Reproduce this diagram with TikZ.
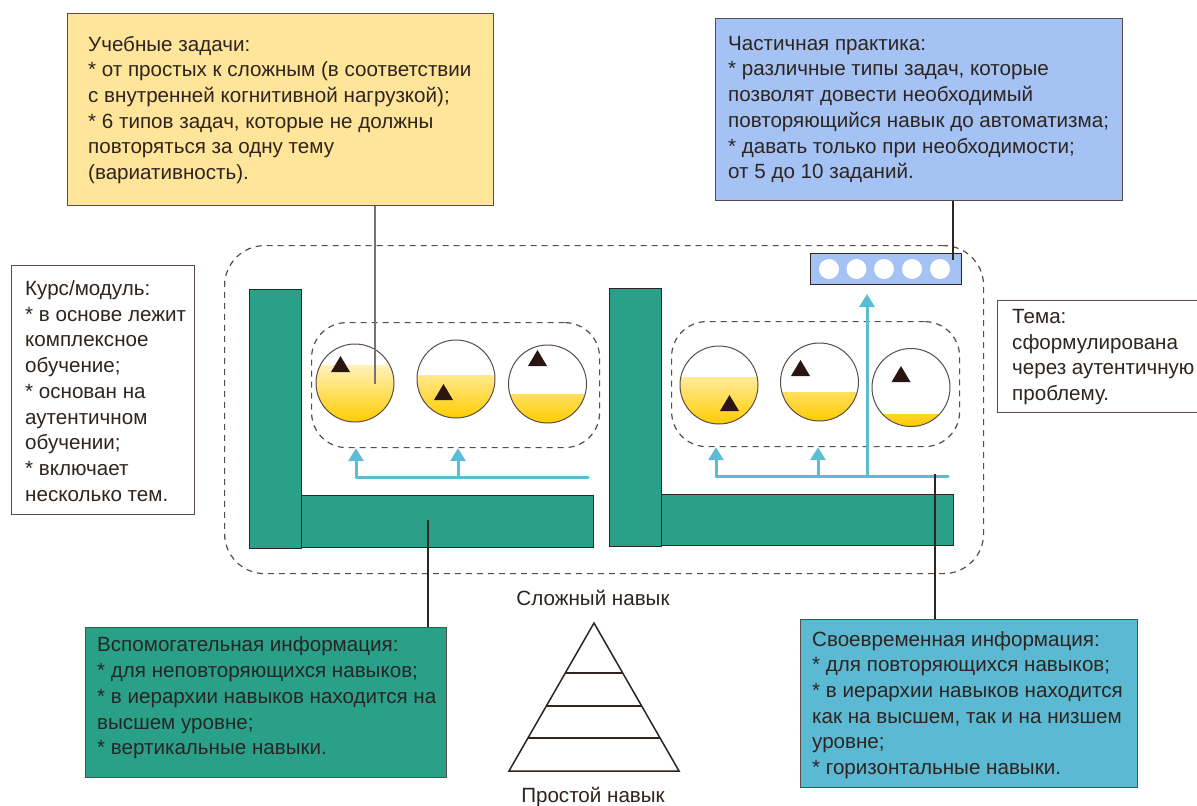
\documentclass[tikz,border=0pt]{standalone}
\usepackage{fontspec}
\setmainfont{Liberation Sans}
\usetikzlibrary{arrows.meta,calc}
\definecolor{yel}{HTML}{FFE599}
\definecolor{lblue}{HTML}{A4C2F4}
\definecolor{teal1}{HTML}{2BA089}
\definecolor{sky}{HTML}{5BB9D3}
\definecolor{flowc}{HTML}{5BBCD6}
\definecolor{gold}{HTML}{FFCC00}
\definecolor{ink}{HTML}{2E2420}
\definecolor{edge}{HTML}{5A4C48}
\definecolor{tri}{HTML}{2A1510}
\tikzset{
  box/.style={draw=edge, line width=1pt, anchor=north west, inner sep=0pt},
  txt/.style={anchor=west, align=left, inner sep=0pt, text=ink, font=\fontsize{20.6}{25.7}\selectfont},
  lbl/.style={inner sep=0pt, text=ink, font=\fontsize{20.6}{24}\selectfont},
  bar/.style={draw=ink, line width=1pt, fill=teal1, anchor=north west, inner sep=0pt},
  dbox/.style={draw=edge, line width=1.2pt, dash pattern=on 6pt off 5pt, anchor=north west, inner sep=0pt},
  cup/.style={circle, draw=edge, line width=1pt, minimum size=78pt, inner sep=0pt, fill=white,
    path picture={\shade[top color=white, middle color=gold!45, bottom color=gold] (path picture bounding box.south west) rectangle ($(path picture bounding box.north east)!#1!(path picture bounding box.south east)$);}},
  flow/.style={draw=flowc, line width=3pt},
  flowarr/.style={draw=flowc, line width=3pt, -{Triangle[width=15pt,length=13pt]}},
  conn/.style={draw=ink, line width=1.3pt},
  dot/.style={circle, fill=white, minimum size=20pt, inner sep=0pt},
  tri/.pic={\fill[tri] (-9.5,0) -- (0,-16) -- (9.5,0) -- cycle;}
}
\begin{document}
\begin{tikzpicture}[x=1pt,y=-1pt]
\useasboundingbox (0,0) rectangle (1197,806);
\fill[white] (0,0) rectangle (1197,806);

% big dashed container
\node[dbox, rounded corners=40pt, minimum width=759pt, minimum height=328pt] (outer) at (224,245) {};

% L shapes
\node[bar, minimum width=52pt, minimum height=259pt] (lvert) at (249,289) {};
\node[bar, minimum width=292pt, minimum height=52pt] (lhor) at (301,495) {};
\node[bar, minimum width=52pt, minimum height=258pt] (rvert) at (609,288) {};
\node[bar, minimum width=292pt, minimum height=51pt] (rhor) at (661,494) {};

% inner dashed groups
\node[dbox, rounded corners=35pt, minimum width=288pt, minimum height=125pt] (linner) at (311,322) {};
\node[dbox, rounded corners=35pt, minimum width=288pt, minimum height=125pt] (rinner) at (671,321) {};

% circles
\node[cup=0.27] (l1) at (355,383) {};
\node[cup=0.46] (l2) at (456,379) {};
\node[cup=0.64] (l3) at (547.5,384) {};
\node[cup=0.40] (r1) at (719,385) {};
\node[cup=0.63] (r2) at (819.5,382) {};
\node[cup=0.85] (r3) at (911,387.5) {};
\pic at (340.5,372) {tri};
\pic at (443.5,400) {tri};
\pic at (537.5,366) {tri};
\pic at (729.5,411) {tri};
\pic at (800.5,376) {tri};
\pic at (901,382) {tri};

% task bar with dots
\node[box, fill=lblue, draw=ink, minimum width=151pt, minimum height=31pt] (tbar) at (810,253) {};
\node[dot] (d1) at (829,269) {};
\node[dot] (d2) at (856.5,269) {};
\node[dot] (d3) at (884,269) {};
\node[dot] (d4) at (912,269) {};
\node[dot] (d5) at (940,269) {};

% blue flow arrows
\coordinate (lf) at (588,477);
\coordinate (la) at (356,477);
\coordinate (lb) at (458,477);
\draw[flow, line cap=round] (lf) -- (la);
\draw[flowarr] (la) -- (linner.south -| la);
\draw[flowarr] (lb) -- (linner.south -| lb);
\coordinate (rf) at (948,476);
\coordinate (ra) at (716,476);
\coordinate (rb) at (818,476);
\coordinate (rc) at (867,476);
\draw[flow, line cap=round] (rf) -- (ra);
\draw[flowarr] (ra) -- (rinner.south -| ra);
\draw[flowarr] (rb) -- (rinner.south -| rb);
\draw[flowarr, shorten >=9pt] (rc) -- (tbar.south -| rc);

% text boxes
\node[box, fill=yel, minimum width=426pt, minimum height=192pt] (ybox) at (67,13) {};
\node[txt] (ytxt) at (88,110) {Учебные задачи:\\
* от простых к сложным (в соответствии\\
с внутренней когнитивной нагрузкой);\\
* 6 типов задач, которые не должны\\
повторяться за одну тему\\
(вариативность).};

\node[box, fill=lblue, minimum width=407pt, minimum height=182pt] (bbox) at (715,18) {};
\node[txt] (btxt) at (728,109.5) {Частичная практика:\\
* различные типы задач, которые\\
позволят довести необходимый\\
повторяющийся навык до автоматизма;\\
* давать только при необходимости;\\
от 5 до 10 заданий.};

\node[box, fill=white, minimum width=183pt, minimum height=249pt] (kbox) at (11,265) {};
\node[txt] (ktxt) at (25,391) {Курс/модуль:\\
* в основе лежит\\
комплексное\\
обучение;\\
* основан на\\
аутентичном\\
обучении;\\
* включает\\
несколько тем.};

\node[box, fill=white, minimum width=210pt, minimum height=112pt] (tbox) at (997,300) {};
\node[txt] (ttxt) at (1012,357) {Тема:\\
сформулирована\\
через аутентичную\\
проблему.};

\node[box, fill=teal1, minimum width=361pt, minimum height=150pt] (abox) at (85,627) {};
\node[txt, text=black!85] (atxt) at (97,698) {Вспомогательная информация:\\
* для неповторяющихся навыков;\\
* в иерархии навыков находится на\\
высшем уровне;\\
* вертикальные навыки.};

\node[box, fill=sky, minimum width=337pt, minimum height=168pt] (sbox) at (800,619) {};
\node[txt] (stxt) at (812,705) {Своевременная информация:\\
* для повторяющихся навыков;\\
* в иерархии навыков находится\\
как на высшем, так и на низшем\\
уровне;\\
* горизонтальные навыки.};

% connectors
\coordinate (yend) at (375,384);
\draw[draw=black!55, line width=1.6pt] (ybox.south -| yend) -- (yend);
\coordinate (bend) at (953,260);
\draw[conn] (bbox.south -| bend) -- (bend);
\coordinate (aend) at (428,520);
\draw[conn] (aend) -- (abox.north -| aend);
\coordinate (send) at (935,474);
\draw[conn] (send) -- (sbox.north -| send);

% pyramid
\coordinate (pa) at (594,623);
\coordinate (pl) at (509,771);
\coordinate (pr) at (679,771);
\draw[ink, line width=1.5pt, line join=miter] (pa) -- (pl) -- (pr) -- cycle;
\foreach \f in {0.338,0.561,0.777}{
  \draw[ink, line width=1.5pt] ($(pa)!\f!(pl)$) -- ($(pa)!\f!(pr)$);
}
\node[lbl] (top) at (593,598) {Сложный навык};
\node[lbl] (bot) at (593,797) {Простой навык};
\end{tikzpicture}
\end{document}
